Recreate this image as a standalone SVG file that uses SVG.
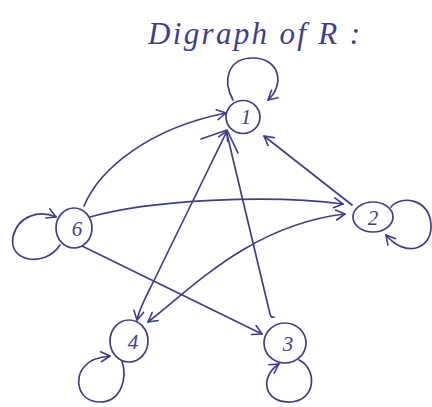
<svg xmlns="http://www.w3.org/2000/svg" width="432" height="407" viewBox="0 0 432 407">
<style>
.ink{fill:none;stroke:#3e3e8c;stroke-width:1.7;stroke-linecap:round;stroke-linejoin:round}
.node ellipse{fill:none;stroke:#3e3e8c;stroke-width:1.7}
.lbl{font-family:"Liberation Serif","DejaVu Serif",serif;font-style:italic;font-size:21px;fill:#3e3e8c;text-anchor:middle;dominant-baseline:central}
.title{font-family:"Liberation Serif","DejaVu Serif",serif;font-style:italic;font-size:31px;fill:#3e3e8c}
</style>
<defs>
<marker id="arr" viewBox="0 0 12 12" refX="10" refY="6" markerWidth="12" markerHeight="12" markerUnits="userSpaceOnUse" orient="auto-start-reverse">
<path d="M1 1 L10 6 L1 11" fill="none" stroke="#3e3e8c" stroke-width="1.6" stroke-linecap="round" stroke-linejoin="round"/>
</marker>
</defs>
<rect width="432" height="407" fill="#ffffff"/>
<text class="title" x="148" y="44" textLength="212" lengthAdjust="spacing">Digraph of R :</text>
<g id="connectors">
<path class="ink" d="M84 206 C100 168 150 128 226 113" marker-end="url(#arr)"/>
<path class="ink" d="M90 217 C150 200 270 194 343 204" marker-end="url(#arr)"/>
<path class="ink" d="M352 205 L264 136" marker-end="url(#arr)"/>
<path class="ink" d="M148 322 C190 290 250 225 345 214" marker-start="url(#arr)" marker-end="url(#arr)"/>
<path class="ink" d="M82 246 L262 334" marker-end="url(#arr)"/>
<path class="ink" d="M227 131 L163 262 C150 290 140 305 137 320" marker-start="url(#arr)" marker-end="url(#arr)"/>
<path class="ink" d="M227 134 L270 314 Q271 318 274 317"/>
<path class="ink" d="M201 139 L227 130 L238 153"/>
</g>
<g id="node1" class="node">
<ellipse cx="243" cy="117" rx="17" ry="16.5"/>
<text class="lbl" x="246" y="117">1</text>
<path class="ink" d="M233 100 C222 80 228 58 253 58 C280 58 285 85 268 100" marker-end="url(#arr)"/>
</g>
<g id="node2" class="node">
<ellipse cx="373" cy="217" rx="20" ry="15"/>
<text class="lbl" x="373" y="218">2</text>
<path class="ink" d="M391 207 C400 195 430 198 431 225 C432 250 405 258 386 235" marker-end="url(#arr)"/>
</g>
<g id="node3" class="node">
<ellipse cx="285" cy="343" rx="21" ry="20"/>
<text class="lbl" x="288" y="344">3</text>
<path class="ink" d="M299 360 C317 368 317 401 290 402 C264 403 259 377 279 364" marker-end="url(#arr)"/>
</g>
<g id="node4" class="node">
<ellipse cx="129" cy="341" rx="19" ry="21"/>
<text class="lbl" x="133" y="342">4</text>
<path class="ink" d="M122 361 C128 380 120 402 100 402 C78 402 73 378 85 366 C90 360 98 357 110 356" marker-end="url(#arr)"/>
</g>
<g id="node6" class="node">
<ellipse cx="74" cy="228" rx="18" ry="20"/>
<text class="lbl" x="77" y="229">6</text>
<path class="ink" d="M60 245 C45 268 8 262 13 237 C18 215 40 210 56 217" marker-end="url(#arr)"/>
</g>
</svg>
